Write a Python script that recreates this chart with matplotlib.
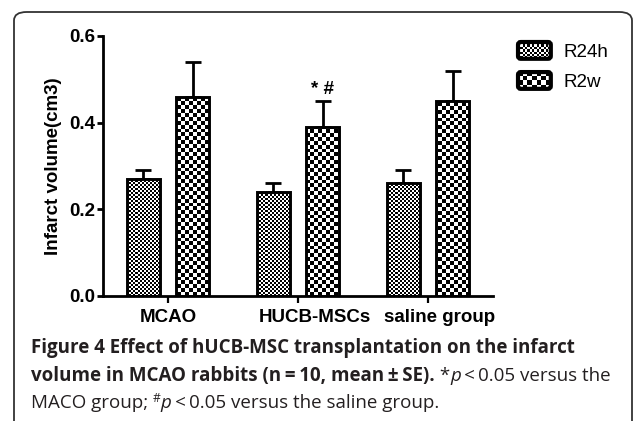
import numpy as np
import matplotlib
matplotlib.use("Agg")
import matplotlib.pyplot as plt
from matplotlib.patches import Patch, Rectangle, FancyBboxPatch
from matplotlib.legend_handler import HandlerBase
from matplotlib.ticker import FormatStrFormatter
from matplotlib.transforms import ScaledTranslation

# data
groups = ["MCAO", "HUCB-MSCs", "saline group"]
series = ["R24h", "R2w"]
r24h = [0.27, 0.24, 0.26]
r24h_se = [0.02, 0.02, 0.03]
r2w = [0.46, 0.39, 0.45]
r2w_se = [0.08, 0.06, 0.07]
marks = ["", "* #", ""]
yticks = [0.0, 0.2, 0.4, 0.6]

W, H = 633, 421
fig = plt.figure(figsize=(W / 100, H / 100), dpi=100)
ax = fig.add_axes([103 / W, 125 / H, 390 / W, 260 / H])

axfont = "Liberation Sans"
capfont = "Open Sans"
capcol = "#231f20"

x = np.arange(len(groups))
bw = 0.254
off = 0.19
ext = (-0.5, 2.5, 0, 0.6)


def checker(rows, cols):
    return np.indices((rows, cols)).sum(axis=0) % 2


fine = checker(130, 195)
coarse = checker(67, 100)

bars1 = ax.bar(x - off, r24h, bw, fill=False, edgecolor="black", linewidth=2.1, zorder=3)
bars2 = ax.bar(x + off, r2w, bw, fill=False, edgecolor="black", linewidth=2.1, zorder=3)

for bars, pat in [(bars1, fine), (bars2, coarse)]:
    for b in bars:
        im = ax.imshow(pat, cmap="gray_r", vmin=0, vmax=1, extent=ext, origin="lower",
                       aspect="auto", interpolation="nearest", zorder=2)
        im.set_clip_path(b)

ax.errorbar(x - off, r24h, yerr=[np.zeros(3), r24h_se], fmt="none", ecolor="black",
            elinewidth=2.0, capsize=5.5, capthick=2.0, zorder=1)
ax.errorbar(x + off, r2w, yerr=[np.zeros(3), r2w_se], fmt="none", ecolor="black",
            elinewidth=2.0, capsize=5.5, capthick=2.0, zorder=1)

for xi, v, e, m in zip(x + off, r2w, r2w_se, marks):
    if m:
        ax.annotate(m, (xi, v + e), xytext=(0, 2), textcoords="offset points",
                    ha="center", va="bottom", fontsize=13.5, fontweight="bold",
                    family=axfont)

ax.set_xlim(ext[0], ext[1])
ax.set_ylim(ext[2], ext[3])
ax.set_yticks(yticks)
ax.yaxis.set_major_formatter(FormatStrFormatter("%.1f"))
ax.set_xticks(x)
ax.set_xticklabels(groups)
for s in ["top", "right"]:
    ax.spines[s].set_visible(False)
for s in ["left", "bottom"]:
    ax.spines[s].set_linewidth(2.0)
ax.tick_params(axis="y", length=4.5, width=2.0, pad=1, labelsize=13.5)
ax.tick_params(axis="x", length=5, width=1.6, pad=4, labelsize=13.5)
for lab in ax.get_xticklabels() + ax.get_yticklabels():
    lab.set_fontfamily(axfont)
    lab.set_fontweight("bold")
# prism put the longer category labels a bit to the right
for lab, dx in zip(ax.get_xticklabels(), [0, 17, 12]):
    lab.set_transform(lab.get_transform() + ScaledTranslation(dx / 100, 0, fig.dpi_scale_trans))
ax.set_ylabel("Infarct volume(cm3)", fontsize=13.5, fontweight="bold", family=axfont, labelpad=5)


class CheckerHandler(HandlerBase):
    def __init__(self, nx, ny):
        super().__init__()
        self.nx, self.ny = nx, ny

    def create_artists(self, legend, orig_handle, xdescent, ydescent, width, height,
                       fontsize, trans):
        x0, y0 = -xdescent, -ydescent
        arts = [Rectangle((x0, y0), width, height, facecolor="white", edgecolor="none",
                          transform=trans)]
        cw, ch = width / self.nx, height / self.ny
        for i in range(self.nx):
            for j in range(self.ny):
                if (i + j) % 2:
                    arts.append(Rectangle((x0 + i * cw, y0 + j * ch), cw, ch,
                                          facecolor="black", edgecolor="none",
                                          transform=trans))
        arts.append(FancyBboxPatch((x0, y0), width, height,
                                   boxstyle="round,pad=0,rounding_size=2",
                                   fill=False, edgecolor="black", linewidth=3,
                                   transform=trans))
        return arts


h1 = Patch(label=series[0])
h2 = Patch(label=series[1])
leg = fig.legend(handles=[h1, h2], loc="upper left", bbox_to_anchor=(518 / W, 1 - 42 / H),
                 frameon=False, borderpad=0, borderaxespad=0, handlelength=1.75,
                 handleheight=1.0, handletextpad=0.7, labelspacing=0.6,
                 prop={"family": axfont, "size": 13.5},
                 handler_map={h1: CheckerHandler(14, 7), h2: CheckerHandler(7, 4)})

# rounded panel frame
frame = FancyBboxPatch((14 / W, -20 / H), (632 - 14) / W, (421 - 12 + 20) / H,
                       boxstyle="round,pad=0,rounding_size=0.02",
                       transform=fig.transFigure, fill=False, edgecolor="#333333",
                       linewidth=1.3, clip_on=False)
fig.patches.append(frame)

# caption with mixed styles
renderer = fig.canvas.get_renderer()


def write_runs(xpx, ypx, runs):
    for txt, kw in runs:
        dy = kw.pop("dy", 0)
        t = fig.text(xpx / W, (H - ypx + dy) / H, txt, color=capcol, family=capfont,
                     va="baseline", ha="left", **kw)
        xpx += t.get_window_extent(renderer).width


csize = 13.5
write_runs(31, 353, [("Figure 4 Effect of hUCB-MSC transplantation on the infarct",
                      dict(fontsize=csize, fontweight="bold"))])
write_runs(31, 381, [("volume in MCAO rabbits (n\u2009=\u200910, mean\u2009\u00b1\u2009SE).",
                      dict(fontsize=csize, fontweight="bold")),
                     (" *", dict(fontsize=csize)),
                     ("p", dict(fontsize=csize, style="italic")),
                     ("\u2009<\u20090.05 versus the", dict(fontsize=csize))])
write_runs(31, 408, [("MACO group; ", dict(fontsize=csize)),
                     ("#", dict(fontsize=csize * 0.65, dy=6)),
                     ("p", dict(fontsize=csize, style="italic")),
                     ("\u2009<\u20090.05 versus the saline group.", dict(fontsize=csize))])

fig.savefig("out.png", dpi=100)
